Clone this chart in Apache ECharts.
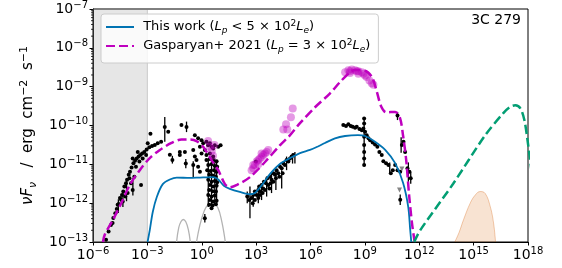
<!DOCTYPE html>
<html><head><meta charset="utf-8">
<script src="https://cdn.jsdelivr.net/npm/echarts@6/dist/echarts.min.js"></script>
<style>html,body{margin:0;padding:0;background:#fff}#c{width:562px;height:268px}</style>
</head><body><div id="c"></div>
<script>
// All values are log10(E / eV) and log10(nuF_nu / erg cm^-2 s^-1)
const xTicks = [-6, -3, 0, 3, 6, 9, 12, 15, 18];
const yTicks = [-13, -12, -11, -10, -9, -8, -7];

const blueModel = [[-2.99,-13.0],[-2.87,-12.70],[-2.70,-12.22],[-2.48,-11.84],[-2.15,-11.51],[-1.76,-11.39],[-1.38,-11.34],[-0.66,-11.35],[-0.10,-11.34],[0.61,-11.33],[0.89,-11.38],[1.22,-11.55],[1.55,-11.63],[2.10,-11.71],[2.66,-11.77],[2.93,-11.74],[3.32,-11.53],[3.76,-11.25],[4.31,-10.99],[4.87,-10.84],[5.42,-10.71],[5.97,-10.63],[6.41,-10.54],[6.80,-10.45],[7.35,-10.33],[7.91,-10.27],[8.62,-10.25],[9.01,-10.27],[9.56,-10.42],[10.12,-10.63],[10.67,-10.97],[11.11,-11.48],[11.39,-12.09],[11.50,-12.68],[11.56,-13.0]];

const magentaModel = [[-5.45,-13.0],[-5.35,-12.81],[-4.90,-12.43],[-4.43,-11.99],[-3.97,-11.53],[-3.42,-11.15],[-2.87,-10.84],[-2.31,-10.63],[-1.67,-10.45],[-1.12,-10.36],[-0.66,-10.36],[-0.29,-10.40],[0.08,-10.55],[0.54,-10.89],[0.91,-11.15],[1.28,-11.51],[1.55,-11.59],[1.94,-11.53],[2.66,-11.33],[3.49,-10.94],[4.31,-10.51],[4.87,-10.25],[5.42,-9.94],[6.25,-9.53],[7.08,-9.17],[7.63,-8.88],[8.18,-8.63],[8.46,-8.57],[9.01,-8.59],[9.40,-8.76],[9.67,-9.15],[9.90,-9.51],[10.17,-9.66],[10.67,-9.65],[10.94,-9.81],[11.11,-10.27],[11.28,-10.89],[11.44,-11.79],[11.61,-12.56],[11.75,-13.0]];

const greenModel = [[11.72,-13.0],[12.05,-12.70],[13.87,-11.50],[15.64,-10.25],[16.64,-9.68],[17.02,-9.52],[17.30,-9.48],[17.58,-9.56],[17.80,-9.86],[17.96,-10.33],[18.2,-11.2]];

const orangeModel = [[13.96,-13.0],[14.2,-12.75],[14.44,-12.43],[14.81,-12.0],[15.09,-11.79],[15.36,-11.70],[15.64,-11.75],[15.92,-12.09],[16.10,-12.51],[16.21,-13.0]];

const greyHump1 = [[-1.39,-13.0],[-1.27,-12.63],[-1.15,-12.48],[-1.02,-12.42],[-0.88,-12.48],[-0.74,-12.68],[-0.63,-13.0]];
const greyHump2 = [[-0.29,-13.0],[-0.10,-12.56],[0.12,-12.22],[0.34,-12.04],[0.61,-11.99],[0.89,-12.12],[1.11,-12.48],[1.30,-13.0]];

const radioPoints = [[-5.28,-12.94],[-5.14,-12.73],[-5.01,-12.56],[-4.88,-12.38],[-4.77,-12.26],[-4.69,-12.15],[-4.58,-12.02],[-4.51,-11.87],[-4.40,-11.79],[-4.33,-11.70],[-4.27,-11.57],[-4.18,-11.49],[-4.12,-11.40],[-4.03,-11.27],[-3.96,-11.19],[-3.87,-11.08],[-3.77,-10.97],[-3.68,-10.91],[-3.59,-10.85],[-3.48,-10.80],[-3.39,-10.76],[-3.29,-10.72],[-3.17,-10.68],[-3.04,-10.62],[-2.89,-10.56],[-2.74,-10.53],[-2.59,-10.50],[-2.43,-10.46],[-2.24,-10.42],[-3.35,-11.53],[-3.90,-11.49],[-4.09,-11.74],[-4.22,-11.83],[-3.81,-11.66],[-3.72,-11.32],[-3.99,-11.36],[-4.36,-11.96],[-3.63,-11.06],[-3.44,-10.93],[-3.26,-10.85],[-3.07,-10.76],[-3.81,-10.85],[-3.53,-10.68],[-2.98,-10.46],[-4.92,-12.51],[-4.64,-12.04],[-4.45,-11.91]];

const opticalPoints = [[-2.04,-10.04],[-1.85,-10.16],[-1.12,-9.99],[-0.84,-10.04],[-1.62,-10.89],[-1.21,-10.76],[-0.93,-10.68],[-0.88,-10.98],[-0.47,-10.63],[-0.38,-10.80],[-0.47,-11.02],[-0.29,-10.89],[-0.20,-11.06],[-0.10,-11.19],[-0.38,-10.25],[-0.20,-10.33],[-0.01,-10.38],[0.08,-10.46],[0.26,-10.42],[0.35,-10.51],[0.45,-10.46],[0.54,-10.55],[0.63,-10.59],[0.72,-10.51],[0.91,-10.55],[1.04,-10.51],[0.17,-10.63],[0.26,-10.76],[0.45,-10.72],[0.63,-10.80],[-0.01,-10.72],[-0.10,-10.55],[0.17,-12.39],[-2.83,-10.21],[-1.76,-10.75],[-1.21,-10.68],
[0.26,-10.89],[0.45,-10.86],[0.63,-10.89],[0.82,-10.92],[0.36,-11.02],[0.54,-11.00],[0.72,-11.04],[0.85,-11.06],[0.30,-11.15],[0.48,-11.17],[0.67,-11.15],[0.82,-11.19],[0.41,-11.27],[0.60,-11.29],[0.78,-11.32],[0.36,-11.40],[0.54,-11.45],[0.72,-11.43],[0.85,-11.46],[0.45,-11.53],[0.63,-11.57],[0.82,-11.55],[0.41,-11.66],[0.60,-11.69],[0.78,-11.70],[0.36,-11.79],[0.54,-11.83],[0.72,-11.80],[0.45,-11.92],[0.63,-11.96],[0.82,-11.94],[0.41,-12.04],[0.60,-12.06],[0.78,-12.03],[0.54,-12.13]];

const xrayPoints = [[2.51,-11.83],[2.62,-11.92],[2.75,-11.87],[2.84,-11.79],[2.93,-11.70],[3.03,-11.79],[3.12,-11.66],[3.17,-11.57],[3.25,-11.70],[3.30,-11.53],[3.39,-11.62],[3.43,-11.45],[3.54,-11.49],[3.62,-11.36],[3.67,-11.53],[3.76,-11.32],[3.85,-11.40],[3.95,-11.23],[4.04,-11.27],[4.13,-11.15],[4.22,-11.23],[4.32,-11.06],[4.41,-11.10],[4.50,-10.98],[4.59,-11.02],[4.68,-10.89],[4.78,-10.93],[4.87,-10.85],[4.96,-10.80],[5.05,-10.76],[2.99,-10.93],[2.81,-12.00],[2.93,-11.92],[3.12,-11.87],[3.21,-11.79],[3.36,-11.74],[3.49,-11.66],[3.73,-11.62],[3.80,-11.49],[3.95,-11.45],[4.09,-11.36],[4.28,-11.32],[4.46,-11.23]];

const gammaPoints = [[7.81,-9.99],[7.96,-10.01],[8.09,-9.97],[8.22,-10.01],[8.33,-10.03],[8.46,-10.06],[8.55,-10.03],[8.70,-10.09],[8.83,-10.12],[8.92,-10.08],[9.01,-10.16],[9.10,-10.25],[9.20,-10.33],[9.29,-10.38],[9.43,-10.44],[9.56,-10.49],[9.69,-10.55],[9.80,-10.68],[9.93,-10.76],[10.02,-10.92],[10.17,-10.97],[10.30,-11.02],[10.43,-11.23],[10.54,-11.15],[10.67,-11.02],[10.80,-11.15],[10.95,-11.19],[11.04,-10.50],[11.13,-10.42],[11.22,-10.68],[11.35,-11.10],[11.46,-11.19],[11.53,-11.36],[10.95,-11.91],[10.80,-9.74],[8.96,-9.82],[8.96,-9.95],[8.96,-10.29],[8.96,-10.50],[8.96,-10.68],[8.96,-10.85],[8.96,-11.02]];

// [x, low, high]
const errorBars = [[-4.15,-11.95,-11.40],[-3.80,-11.80,-11.35],[-4.35,-12.10,-11.70],[-4.60,-12.25,-11.90],
[-2.04,-10.42,-9.78],[-0.84,-10.17,-9.90],[-0.88,-11.10,-10.86],[-1.62,-10.98,-10.78],[-0.47,-11.35,-10.92],[0.17,-12.50,-12.28],[0.36,-12.10,-10.85],[0.54,-12.15,-10.90],[0.72,-12.05,-10.85],[0.82,-12.0,-10.9],
[2.66,-12.39,-11.57],[2.84,-12.09,-11.74],[3.12,-12.00,-11.57],[3.30,-11.92,-11.49],[3.58,-11.83,-11.32],[3.85,-11.74,-11.23],[4.09,-11.66,-11.15],[4.41,-11.62,-11.15],[4.68,-11.15,-10.80],[5.01,-10.98,-10.72],[5.14,-10.98,-10.68],[2.51,-12.00,-11.70],
[8.96,-11.05,-9.80],[11.00,-10.70,-10.30],[11.40,-11.45,-10.95],[10.95,-12.05,-11.78],[10.80,-9.86,-9.65],[10.37,-11.25,-10.95],[11.53,-11.50,-11.20]];

const upperLimits = [[11.04,-11.12],[10.91,-11.66]];

const gasparyanPoints = [[0.35,-10.40],[0.45,-10.55],[0.55,-10.65],[0.62,-10.78],[0.70,-10.50],
[2.75,-11.15],[2.84,-11.10],[2.93,-11.02],[3.03,-10.93],[3.12,-10.89],[3.21,-10.85],[3.30,-10.81],[3.39,-10.76],[3.49,-10.72],[3.58,-10.68],[3.67,-10.63],[3.30,-10.72],[3.12,-11.0],[2.84,-11.02],
[4.50,-10.10],[4.72,-10.10],[4.65,-9.97],[4.92,-9.79],[5.02,-9.56],
[7.91,-8.63],[8.09,-8.58],[8.18,-8.60],[8.28,-8.56],[8.46,-8.58],[8.55,-8.60],[8.64,-8.60],[8.83,-8.63],[8.92,-8.67],[9.01,-8.71],[9.10,-8.75],[9.25,-8.84],[9.38,-8.91],[9.47,-8.95],[8.18,-8.65],[8.64,-8.67]];

const shadedBand = [-6, -3];
const sourceName = '3C 279';

const FONT = 'DejaVu Sans';
const minorTicks = [];
for (let n = -13; n < -7; n++) for (let k = 2; k <= 9; k++) minorTicks.push([n + Math.log10(k)]);

function powLabel(v) {
  const e = Math.round(v);
  return '{b|10}{s|' + (e < 0 ? '\u2212' : '') + Math.abs(e) + '}';
}
const tickRich = {
  b: {fontSize: 14, fontFamily: FONT, color: '#000', lineHeight: 18},
  s: {fontSize: 10, fontFamily: FONT, color: '#000', lineHeight: 10, verticalAlign: 'top'}
};

const chart = echarts.init(document.getElementById('c'), null, {renderer: 'canvas'});
const allBlack = radioPoints.concat(opticalPoints, xrayPoints, gammaPoints);

chart.setOption({
  animation: false,
  backgroundColor: '#fff',
  title: {text: sourceName, right: 41, top: 13, padding: 0,
    textStyle: {fontSize: 14, fontWeight: 'normal', fontFamily: FONT, color: '#000'}},
  legend: {
    left: 101, top: 14, orient: 'vertical', itemWidth: 28, itemHeight: 14, itemGap: 3,
    padding: [5, 8, 9, 4],
    backgroundColor: 'rgba(255,255,255,0.8)', borderColor: '#cccccc', borderWidth: 1, borderRadius: 3,
    itemStyle: {opacity: 0},
    data: ['blue', 'magenta'],
    formatter: function (n) {
      if (n === 'blue') return ' This work ({i|L}{sub|p}{r| < 5 \u00d7 10}{sup|2}{i|L}{sub|e}{r|)}';
      return ' Gasparyan+ 2021 ({i|L}{sub|p}{r| = 3 \u00d7 10}{sup|2}{i|L}{sub|e}{r|)}';
    },
    textStyle: {fontSize: 13, fontFamily: FONT, color: '#000', lineHeight: 16,
      rich: {
        r: {fontSize: 13, fontFamily: FONT, color: '#000'},
        i: {fontSize: 13, fontFamily: FONT, fontStyle: 'italic', color: '#000'},
        sub: {fontSize: 9, fontFamily: FONT, fontStyle: 'italic', color: '#000', verticalAlign: 'bottom', lineHeight: 9},
        sup: {fontSize: 9, fontFamily: FONT, color: '#000', verticalAlign: 'top', lineHeight: 9}
      }}
  },
  grid: {left: 93, right: 34, top: 8, bottom: 26, show: true, borderColor: '#000', borderWidth: 1, backgroundColor: 'transparent'},
  xAxis: {
    type: 'value', min: -6, max: 18, interval: 3,
    axisLine: {show: true, onZero: false, lineStyle: {color: '#000', width: 1}},
    axisTick: {show: true, length: 3.5, inside: false, lineStyle: {color: '#000'}},
    splitLine: {show: false},
    axisLabel: {margin: 4, formatter: powLabel, rich: tickRich, color: '#000'}
  },
  yAxis: {
    type: 'value', min: -13, max: -7, interval: 1,
    axisLine: {show: true, onZero: false, lineStyle: {color: '#000', width: 1}},
    axisTick: {show: true, length: 3.5, lineStyle: {color: '#000'}},
    splitLine: {show: false},
    axisLabel: {margin: 5, formatter: powLabel, rich: tickRich, color: '#000'},
    name: '{i|\u03bdF}{sub|\u03bd}{r|   /  erg  cm}{sup|\u22122}{r|  s}{sup|\u22121}',
    nameLocation: 'middle', nameRotate: 90, nameGap: 46,
    nameTextStyle: {fontSize: 15, fontFamily: FONT, color: '#000', lineHeight: 20,
      rich: {
        i: {fontSize: 15, fontFamily: FONT, fontStyle: 'italic', color: '#000'},
        r: {fontSize: 15, fontFamily: FONT, color: '#000'},
        sub: {fontSize: 11, fontFamily: FONT, fontStyle: 'italic', color: '#000', verticalAlign: 'bottom', lineHeight: 10},
        sup: {fontSize: 11, fontFamily: FONT, color: '#000', verticalAlign: 'top', lineHeight: 10}
      }}
  },
  series: [
    {type: 'line', name: 'greyHump1', data: greyHump1, symbol: 'none', smooth: 0.4, z: 1,
      lineStyle: {color: '#b3b3b3', width: 1.3},
      markArea: {silent: true, itemStyle: {color: 'rgba(128,128,128,0.2)', borderColor: 'rgba(128,128,128,0.35)', borderWidth: 1},
        data: [[{xAxis: shadedBand[0]}, {xAxis: shadedBand[1]}]]}},
    {type: 'line', name: 'greyHump2', data: greyHump2, symbol: 'none', smooth: 0.4, z: 1,
      lineStyle: {color: '#b3b3b3', width: 1.3}},
    {type: 'line', name: 'orange', data: orangeModel, symbol: 'none', smooth: 0.4, z: 1,
      lineStyle: {color: 'rgba(213,94,0,0.3)', width: 1},
      areaStyle: {color: 'rgba(213,94,0,0.25)', origin: 'start'}},
    {type: 'custom', name: 'errors', data: errorBars, z: 3,
      encode: {x: 0, y: [1, 2]},
      renderItem: function (params, api) {
        const a = api.coord([api.value(0), api.value(1)]);
        const b = api.coord([api.value(0), api.value(2)]);
        return {type: 'line', shape: {x1: a[0], y1: a[1], x2: b[0], y2: b[1]}, style: {stroke: '#000', lineWidth: 1.3}};
      }},
    {type: 'scatter', name: 'data', data: allBlack, symbol: 'circle', symbolSize: 4, z: 4,
      itemStyle: {color: '#000', opacity: 1}},
    {type: 'scatter', name: 'ul', data: upperLimits, symbol: 'triangle', symbolRotate: 180, symbolSize: 5, z: 4,
      itemStyle: {color: '#666'}},
    {type: 'scatter', name: 'gasp', data: gasparyanPoints, symbol: 'circle', symbolSize: 8, z: 5,
      itemStyle: {color: 'rgba(191,0,191,0.5)'}},
    {type: 'line', name: 'blue', data: blueModel, symbol: 'none', smooth: 0.3, z: 6,
      itemStyle: {color: '#0173b2'},
      lineStyle: {color: '#0173b2', width: 1.8}},
    {type: 'line', name: 'magenta', data: magentaModel, symbol: 'none', smooth: 0.3, z: 6,
      itemStyle: {color: '#bf00bf'},
      lineStyle: {color: '#bf00bf', width: 2.5, type: [9, 4]}},
    {type: 'line', name: 'green', data: greenModel, symbol: 'none', smooth: 0.3, z: 6,
      lineStyle: {color: '#029e73', width: 2.5, type: [9, 4]}},
    {type: 'custom', name: 'minor', data: minorTicks, z: 7, clip: false, silent: true,
      encode: {y: 0},
      renderItem: function (params, api) {
        const p = api.coord([-6, api.value(0)]);
        return {type: 'line', shape: {x1: p[0] - 2, y1: p[1], x2: p[0], y2: p[1]}, style: {stroke: '#000', lineWidth: 0.8}};
      }}
  ]
});
</script></body></html>
